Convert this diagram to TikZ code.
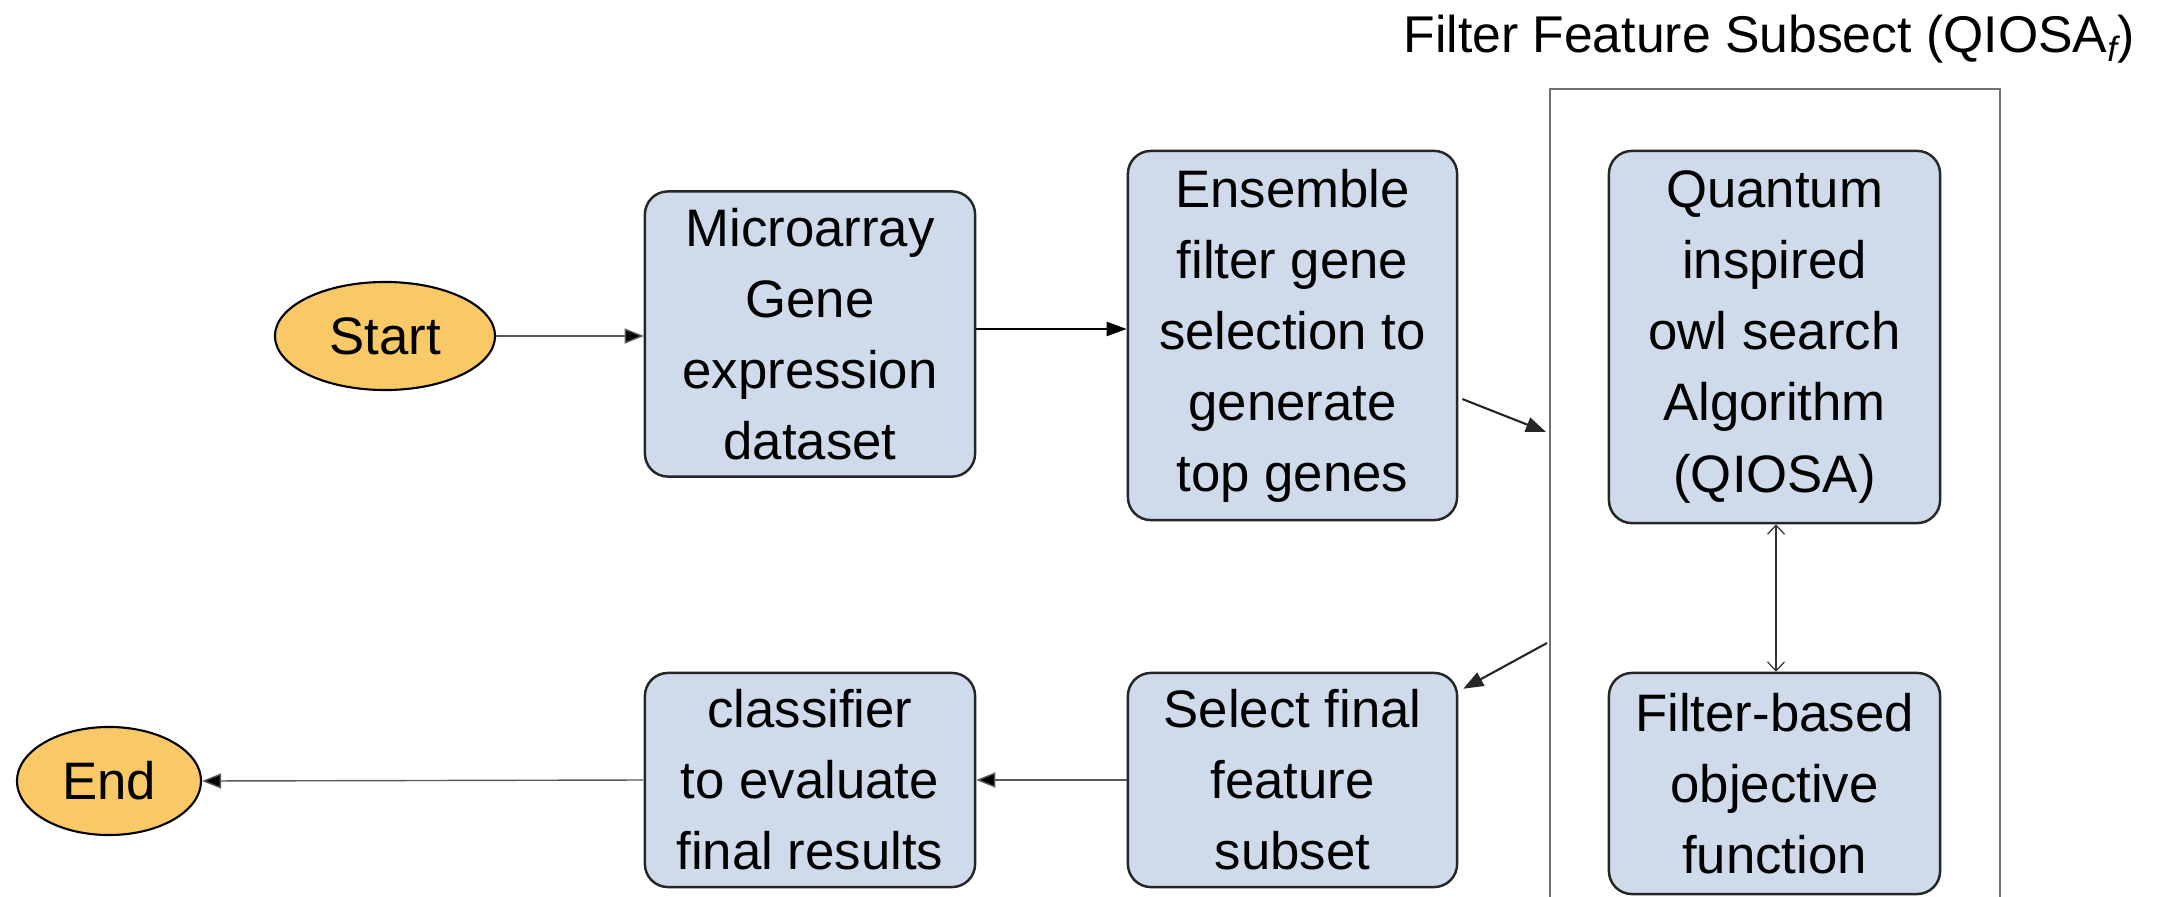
\documentclass[tikz,border=0pt]{standalone}
\usepackage{fontspec}
\setmainfont{Liberation Sans}
\usetikzlibrary{arrows.meta,shapes.geometric}
\definecolor{boxblue}{HTML}{CFDAEB}
\definecolor{ovalfill}{HTML}{F9C867}
\definecolor{framegray}{HTML}{707070}
\tikzset{
  procbox/.style={rectangle, rounded corners=0.23cm, draw=black!85, line width=0.7pt,
    fill=boxblue, align=center, inner sep=0pt, font=\fontsize{15}{20.2}\selectfont},
  terminal/.style={ellipse, draw=black, line width=0.6pt, fill=ovalfill, inner sep=0pt,
    font=\fontsize{15}{20.2}\selectfont},
  thinarr/.style={draw=black!65, line width=0.4pt, -{Triangle[length=0.19cm,width=0.15cm,fill=black]}},
  thickarr/.style={draw=black, line width=0.6pt, -{Triangle[length=0.2cm,width=0.14cm]}},
  diagarr/.style={draw=black!85, line width=0.6pt, -{Triangle[length=0.2cm,width=0.15cm]}},
  duoarr/.style={draw=black!80, line width=0.35pt, {Straight Barb[length=0.09cm,width=0.17cm]}-{Straight Barb[length=0.09cm,width=0.17cm]}}
}
\begin{document}
\begin{tikzpicture}[x=0.01cm,y=-0.01cm]
\useasboundingbox (0,0) rectangle (2157,897);

% frame
\coordinate (fbl) at (1550,897);
\coordinate (ftl) at (1550,89);
\coordinate (ftr) at (2000,89);
\coordinate (fbr) at (2000,897);
\draw[framegray, line width=0.4pt] (fbl) -- (ftl) -- (ftr) -- (fbr);
\node[anchor=base east, inner sep=0pt, font=\fontsize{14.7}{18}\selectfont] (title) at (2135,52)
  {Filter Feature Subsect (QIOSA\raisebox{-0.35ex}{\fontsize{10}{10}\selectfont\itshape f})};

% terminals
\node[terminal, minimum width=2.2cm, minimum height=1.08cm] (start) at (385,336) {Start};
\node[terminal, minimum width=1.84cm, minimum height=1.08cm] (end) at (109,781) {End};

% boxes
\node[procbox, minimum width=3.30cm, minimum height=2.85cm] (micro) at (810,334)
  {Microarray\\Gene\\expression\\dataset};
\node[procbox, minimum width=3.29cm, minimum height=3.69cm] (ens) at (1292.5,335.5)
  {Ensemble\\filter gene\\selection to\\generate\\top genes};
\node[procbox, minimum width=3.31cm, minimum height=3.72cm] (qiosa) at (1774.5,337)
  {Quantum\\inspired\\owl search\\Algorithm\\(QIOSA)};
\node[procbox, minimum width=3.31cm, minimum height=2.21cm] (filt) at (1774.5,783.5)
  {Filter-based\\objective\\function};
\node[procbox, minimum width=3.29cm, minimum height=2.14cm] (sel) at (1292.5,780)
  {Select final\\feature\\subset};
\node[procbox, minimum width=3.30cm, minimum height=2.14cm] (cls) at (810,780)
  {classifier\\to evaluate\\final results};

% connectors
\coordinate (fin) at (1546,432);
\coordinate (fout) at (1547,643);
\draw[thinarr] (start.east) -- (start.east -| micro.west);
\draw[thickarr] ([yshift=0.05cm]micro.east) -- ([yshift=0.05cm]micro.east -| ens.west);
\draw[diagarr] ([yshift=-0.635cm,xshift=0.04cm]ens.east) -- (fin);
\draw[diagarr] (fout) -- ([yshift=-0.17cm,xshift=0.05cm]sel.north east);
\draw[duoarr] ([xshift=0.015cm]qiosa.south) -- ([xshift=0.015cm]filt.north);
\draw[thinarr] (sel.west) -- (cls.east);
\draw[thinarr] (cls.west) -- (end.east);
\end{tikzpicture}
\end{document}
